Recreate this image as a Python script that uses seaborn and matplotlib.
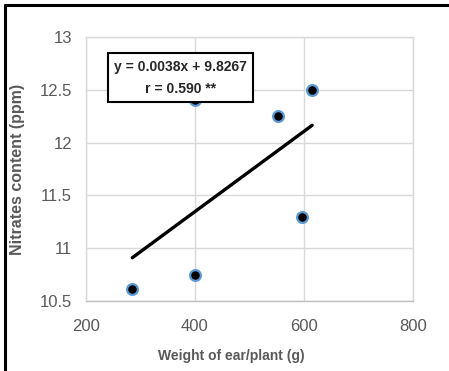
import matplotlib.pyplot as plt
import seaborn as sns
from matplotlib.lines import Line2D

# 数据
weight = [285, 400, 400, 553, 597, 615]
nitrate = [10.61, 10.75, 12.40, 12.25, 11.30, 12.50]
slope = 0.0038
intercept = 9.8267
r_value = 0.590

x_ticks = [200, 400, 600, 800]
y_ticks = [10.5, 11, 11.5, 12, 12.5, 13]

sns.set_theme(style="white")
plt.rcParams['font.family'] = ['Liberation Sans', 'DejaVu Sans']

fig = plt.figure(figsize=(4.49, 3.71), dpi=100)
ax = fig.add_axes([0.1915, 0.1887, 0.7283, 0.7116])

# 趋势线
line_x = [min(weight), max(weight)]
line_y = [slope * v + intercept for v in line_x]
sns.lineplot(x=line_x, y=line_y, ax=ax, color='black', linewidth=2.4, zorder=2)

# 散点
sns.scatterplot(x=weight, y=nitrate, ax=ax, color='black', edgecolor='#5B9BD5',
                linewidth=1.6, s=60, zorder=3)

ax.set_xlim(200, 800)
ax.set_ylim(10.5, 13)
ax.set_xticks(x_ticks)
ax.set_yticks(y_ticks)
ax.set_yticklabels([f'{v:g}' for v in y_ticks])
ax.grid(True, color='#D9D9D9', linewidth=1)
ax.set_axisbelow(True)
for side in ['left', 'top', 'right']:
    ax.spines[side].set_color('#D9D9D9')
ax.spines['bottom'].set_color('#BFBFBF')
for sp in ax.spines.values():
    sp.set_linewidth(1)
ax.tick_params(axis='both', length=0, labelsize=12, labelcolor='#595959')
ax.tick_params(axis='x', pad=13)
ax.tick_params(axis='y', pad=10)

ax.set_xlabel('Weight of ear/plant (g)', fontsize=10, fontweight='bold', color='#595959')
ax.set_ylabel('Nitrates content (ppm)', fontsize=11.5, fontweight='bold', color='#595959')
ax.xaxis.set_label_coords(0.443, -0.182)
ax.yaxis.set_label_coords(-0.187, 0.5)

# 方程文本框
ax.text(373, 12.615, f'y = {slope}x + {intercept}\nr = {r_value:.3f} **',
        ha='center', va='center', fontsize=10, fontweight='bold', color='#262626',
        linespacing=1.75, zorder=5,
        bbox=dict(boxstyle='square,pad=0.45', facecolor='white', edgecolor='black', linewidth=1.5))

# 外边框
fig.add_artist(Line2D([0.0105, 1.0], [0.9865, 0.9865], color='black', linewidth=2.2))
fig.add_artist(Line2D([0.0105, 0.0105], [0.0, 0.9865], color='black', linewidth=2.2))

plt.savefig('out.png', dpi=100)
plt.close()
